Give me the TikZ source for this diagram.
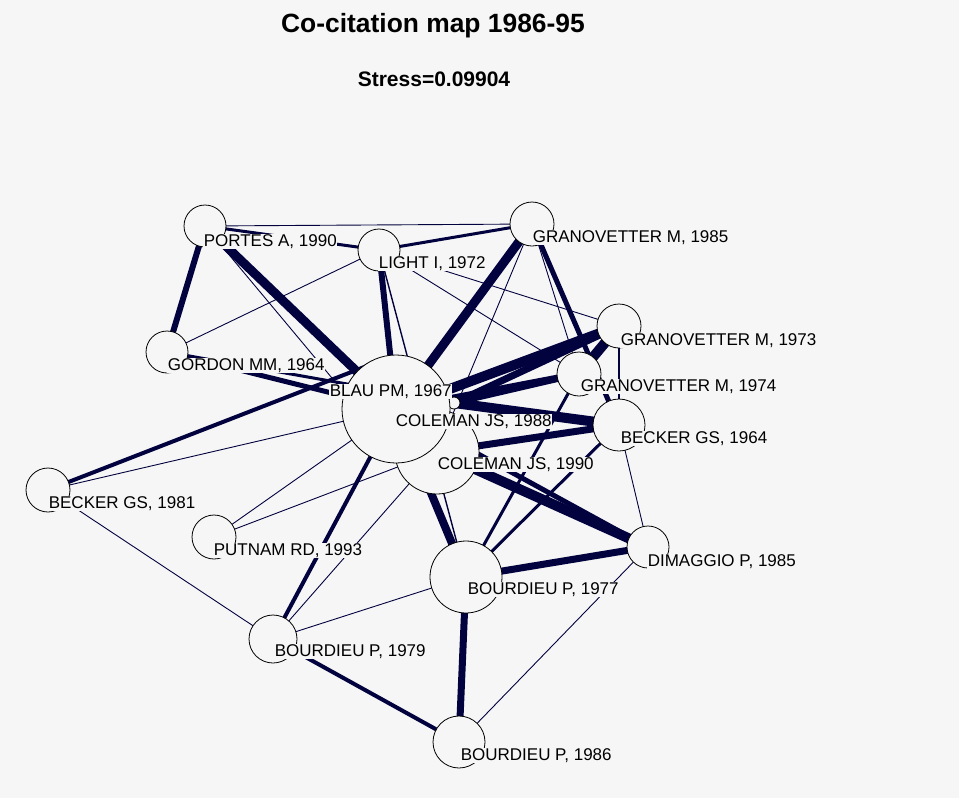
\documentclass[tikz,border=0pt]{standalone}
\usepackage{fontspec}
\setmainfont{Liberation Sans}
\definecolor{bgcol}{HTML}{F6F6F6}
\definecolor{linkcol}{RGB}{2,2,62}
\pgfdeclarelayer{paper}
\pgfdeclarelayer{links}
\pgfsetlayers{paper,links,main}
\tikzset{
  lnk/.style={draw=linkcol, line width=#1},
  lnk/.default=0.9pt,
  cite/.style={circle, draw=black, line width=0.8pt, fill=bgcol, inner sep=0pt, minimum size=#1},
  lbl/.style={fill=bgcol, inner sep=0.6pt, anchor=base west, font=\fontsize{17}{19}\selectfont},
}
\begin{document}
\begin{tikzpicture}[x=1pt,y=-1pt]
\useasboundingbox (0,0) rectangle (959,798);
\begin{pgfonlayer}{paper}
\fill[bgcol] (0,0) rectangle (959,798);
\end{pgfonlayer}

% title block
\node[font=\bfseries\fontsize{26.4}{29}\selectfont, anchor=base] (title) at (433,32) {Co-citation map 1986-95};
\node[font=\bfseries\fontsize{21}{24}\selectfont, anchor=base] (stress) at (434,86) {Stress=0.09904};

% cited documents (circle size ~ citation count); drawn back to front
\node[cite=12pt] (col88) at (454,403) {};
\node[cite=84pt] (col90) at (437,452) {};
\node[cite=108pt] (blau) at (396,409) {};
\node[cite=42pt] (portes) at (205,226) {};
\node[cite=42pt] (light) at (379,250) {};
\node[cite=44pt] (gran85) at (532,224) {};
\node[cite=44pt] (gran73) at (619,326) {};
\node[cite=44pt] (gran74) at (579,374) {};
\node[cite=52pt] (becker64) at (619,425) {};
\node[cite=42pt] (gordon) at (167,352) {};
\node[cite=44pt] (becker81) at (48,490) {};
\node[cite=44pt] (putnam) at (214,537) {};
\node[cite=48pt] (bour79) at (273,639) {};
\node[cite=72pt] (bour77) at (466,577) {};
\node[cite=42pt] (dimaggio) at (648,547) {};
\node[cite=52pt] (bour86) at (459,742) {};

% link ends tucked under the BLAU circle
\coordinate (blauNW) at (372,364);
\coordinate (blauW) at (352,402);

% labels
\node[lbl] (portesL) at (203,246) {PORTES A, 1990};
\node[lbl] (lightL) at (378,268) {LIGHT I, 1972};
\node[lbl] (gran85L) at (532,242) {GRANOVETTER M, 1985};
\node[lbl] (gran73L) at (620,345) {GRANOVETTER M, 1973};
\node[lbl] (gran74L) at (580,391) {GRANOVETTER M, 1974};
\node[lbl] (becker64L) at (620,443) {BECKER GS, 1964};
\node[lbl] (gordonL) at (167,370) {GORDON MM, 1964};
\node[lbl] (blauL) at (329,396) {BLAU PM, 1967};
\node[lbl] (col88L) at (395,426) {COLEMAN JS, 1988};
\node[lbl] (col90L) at (437,469) {COLEMAN JS, 1990};
\node[lbl] (becker81L) at (48,508) {BECKER GS, 1981};
\node[lbl] (putnamL) at (213,555) {PUTNAM RD, 1993};
\node[lbl] (bour79L) at (274,656) {BOURDIEU P, 1979};
\node[lbl] (bour77L) at (467,594) {BOURDIEU P, 1977};
\node[lbl] (dimaggioL) at (647,566) {DIMAGGIO P, 1985};
\node[lbl] (bour86L) at (460,760) {BOURDIEU P, 1986};

% co-citation links, width ~ strength
\begin{pgfonlayer}{links}
\draw[lnk] (portes.center) -- (gran85.center);
\draw[lnk] (portes.center) -- (blauW);
\draw[lnk] (light.center) -- (gordon.center);
\draw[lnk=1.4pt] (light.center) -- (bour77.center);
\draw[lnk] (light.center) -- (gran74.center);
\draw[lnk] (light.center) -- (gran73.center);
\draw[lnk] (gran85.center) -- (col90.center);
\draw[lnk] (gran85.center) -- (gran74.center);
\draw[lnk] (becker64.center) -- (dimaggio.center);
\draw[lnk] (bour77.center) -- (bour79.center);
\draw[lnk] (bour79.center) -- (becker81.center);
\draw[lnk] (dimaggio.center) -- (bour86.center);
\draw[lnk] (putnam.center) -- (blau.center);
\draw[lnk] (putnam.center) -- (col90.center);
\draw[lnk] (col90.center) -- (bour79.center);
\draw[lnk] (becker81.center) -- (blau.center);
\draw[lnk=6pt] (portes.center) -- (gordon.center);
\draw[lnk=9pt] (portes.center) -- (blau.center);
\draw[lnk=3pt] (portes.center) -- (light.center);
\draw[lnk=3pt] (light.center) -- (gran85.center);
\draw[lnk=6pt] (light.center) -- (blau.center);
\draw[lnk=9pt] (gran85.center) -- (blau.center);
\draw[lnk=5pt] (gran85.center) -- (becker64.center);
\draw[lnk=10pt] (blau.center) -- (gran73.center);
\draw[lnk=7pt] (blau.center) -- (gran74.center);
\draw[lnk=10pt] (gran73.center) -- (gran74.center);
\draw[lnk=2.5pt] (gran73.center) -- (becker64.center);
\draw[lnk=10pt] (col88.center) -- (becker64.center);
\draw[lnk=7pt] (col88.center) -- (gran73.center);
\draw[lnk=6pt] (col88.center) -- (gran74.center);
\draw[lnk=7pt] (col90.center) -- (becker64.center);
\draw[lnk=10pt] (col90.center) -- (dimaggio.center);
\draw[lnk=5pt] (blau.center) -- (dimaggio.center);
\draw[lnk=7pt] (bour77.center) -- (dimaggio.center);
\draw[lnk=3pt] (bour77.center) -- (becker64.center);
\draw[lnk=3pt] (bour77.center) -- (gran74.center);
\draw[lnk=8pt] (blau.center) -- (bour77.center);
\draw[lnk=4pt] (blau.center) -- (bour79.center);
\draw[lnk=4pt] (bour79.center) -- (bour86.center);
\draw[lnk=7pt] (bour77.center) -- (bour86.center);
\draw[lnk=4pt] (becker81.center) -- (blauNW);
\draw[lnk=5pt] (gordon.center) -- (blau.center);
\draw[lnk=3pt] (gordon.center) -- (col88.center);
\end{pgfonlayer}
\end{tikzpicture}
\end{document}
